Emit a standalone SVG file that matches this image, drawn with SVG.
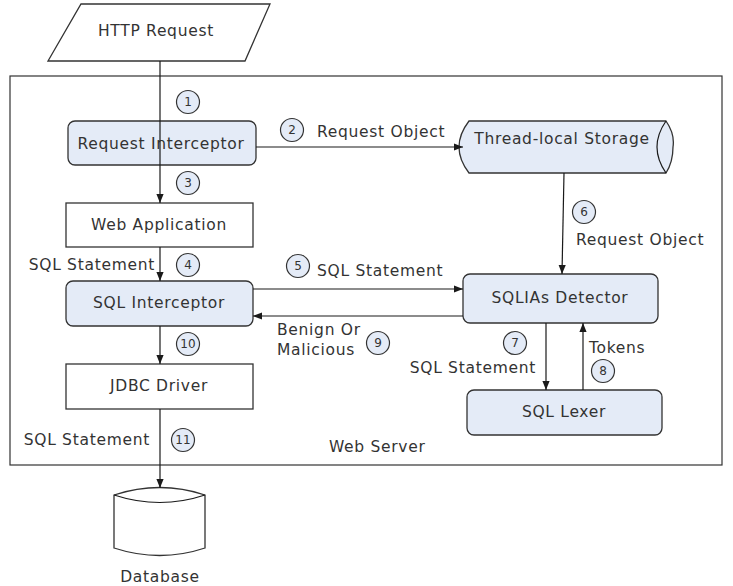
<svg xmlns="http://www.w3.org/2000/svg" width="733" height="586" viewBox="0 0 733 586">
<defs>
<marker id="ah" viewBox="0 0 10 10" refX="10" refY="5" markerWidth="9" markerHeight="9" markerUnits="userSpaceOnUse" orient="auto"><path d="M0,1 L10,5 L0,9 Z" fill="#1a1a1a"/></marker>
</defs>
<style>
text{font-family:"DejaVu Sans",Verdana,sans-serif;font-size:15.5px;letter-spacing:0.7px;fill:#333}
.blue{fill:#e4ebf7;stroke:#333;stroke-width:1.3}
.white{fill:#fff;stroke:#333;stroke-width:1.3}
.ln{fill:none;stroke:#1a1a1a;stroke-width:1.2}
.arr{fill:none;stroke:#1a1a1a;stroke-width:1.2;marker-end:url(#ah)}
.num circle{fill:#e4ebf7;stroke:#333;stroke-width:1.2}
.num text{font-size:12px;letter-spacing:0;text-anchor:middle}
.c{text-anchor:middle}
.e{text-anchor:end}
</style>
<rect width="733" height="586" fill="#fff"/>

<g id="web-server">
<rect x="10" y="76" width="712" height="389" fill="none" stroke="#333" stroke-width="1.2"/>
<text x="329" y="452">Web Server</text>
</g>

<g id="http-request">
<polygon class="white" points="81,4 270,4 245,61 48,61"/>
<text class="c" x="156" y="36">HTTP Request</text>
</g>

<g id="request-interceptor">
<rect class="blue" x="68" y="121" width="188" height="44" rx="7"/>
<text class="c" x="161" y="149">Request Interceptor</text>
</g>

<g id="web-application">
<rect class="white" x="66" y="203" width="187" height="44"/>
<text class="c" x="159" y="230">Web Application</text>
</g>

<g id="sql-interceptor">
<rect class="blue" x="66" y="281" width="187" height="45" rx="7"/>
<text class="c" x="159" y="308">SQL Interceptor</text>
</g>

<g id="jdbc-driver">
<rect class="white" x="66" y="364" width="187" height="45"/>
<text class="c" x="159" y="391">JDBC Driver</text>
</g>

<g id="database">
<path class="white" d="M114,495 Q160,480 205,495 L205,548 Q160,563 114,548 Z"/>
<path class="ln" d="M114,495 Q160,510 205,495"/>
<text class="c" x="160" y="582">Database</text>
</g>

<g id="thread-local-storage">
<path class="blue" d="M469,121 L666,121 Q675,134 673,147 Q673,162 666,173 L469,173 Q459,160 459,147 Q459,134 469,121 Z"/>
<path class="ln" d="M666,121 Q657,134 657,147 Q657,160 666,173"/>
<text class="c" x="562" y="144">Thread-local Storage</text>
</g>

<g id="sqlias-detector">
<rect class="blue" x="463" y="274" width="195" height="49" rx="7"/>
<text class="c" x="560" y="303">SQLIAs Detector</text>
</g>

<g id="sql-lexer">
<rect class="blue" x="467" y="390" width="195" height="45" rx="7"/>
<text class="c" x="564" y="417">SQL Lexer</text>
</g>

<g id="connectors">
<path class="arr" d="M160,61 L160,203"/>
<path class="arr" d="M256,147 L463,147"/>
<path class="arr" d="M160,247 L160,281"/>
<path class="arr" d="M160,326 L160,364"/>
<path class="arr" d="M160,409 L160,488"/>
<path class="arr" d="M564,173 L562,274"/>
<path class="arr" d="M253,289 L463,289"/>
<path class="arr" d="M463,316 L253,316"/>
<path class="arr" d="M546,323 L546,390"/>
<path class="arr" d="M583,390 L583,323"/>

<text x="317" y="137">Request Object</text>
<text x="576" y="245">Request Object</text>
<text class="e" x="155" y="270">SQL Statement</text>
<text x="317" y="276">SQL Statement</text>
<text x="277" y="335">Benign Or</text>
<text x="277" y="355">Malicious</text>
<text class="e" x="536" y="373">SQL Statement</text>
<text x="589" y="353">Tokens</text>
<text class="e" x="150" y="445">SQL Statement</text>

<g class="num"><circle cx="188" cy="102" r="11.5"/><text x="188" y="106">1</text></g>
<g class="num"><circle cx="292" cy="130" r="11.5"/><text x="292" y="134">2</text></g>
<g class="num"><circle cx="188" cy="183" r="11.5"/><text x="188" y="187">3</text></g>
<g class="num"><circle cx="188" cy="265" r="11.5"/><text x="188" y="269">4</text></g>
<g class="num"><circle cx="298" cy="266" r="11.5"/><text x="298" y="270">5</text></g>
<g class="num"><circle cx="584" cy="212" r="11.5"/><text x="584" y="216">6</text></g>
<g class="num"><circle cx="515" cy="343" r="11.5"/><text x="515" y="347">7</text></g>
<g class="num"><circle cx="603" cy="371" r="11.5"/><text x="603" y="375">8</text></g>
<g class="num"><circle cx="378" cy="343" r="11.5"/><text x="378" y="347">9</text></g>
<g class="num"><circle cx="188" cy="344" r="11.5"/><text x="188" y="348">10</text></g>
<g class="num"><circle cx="183" cy="440" r="11.5"/><text x="183" y="444">11</text></g>
</g>
</svg>
